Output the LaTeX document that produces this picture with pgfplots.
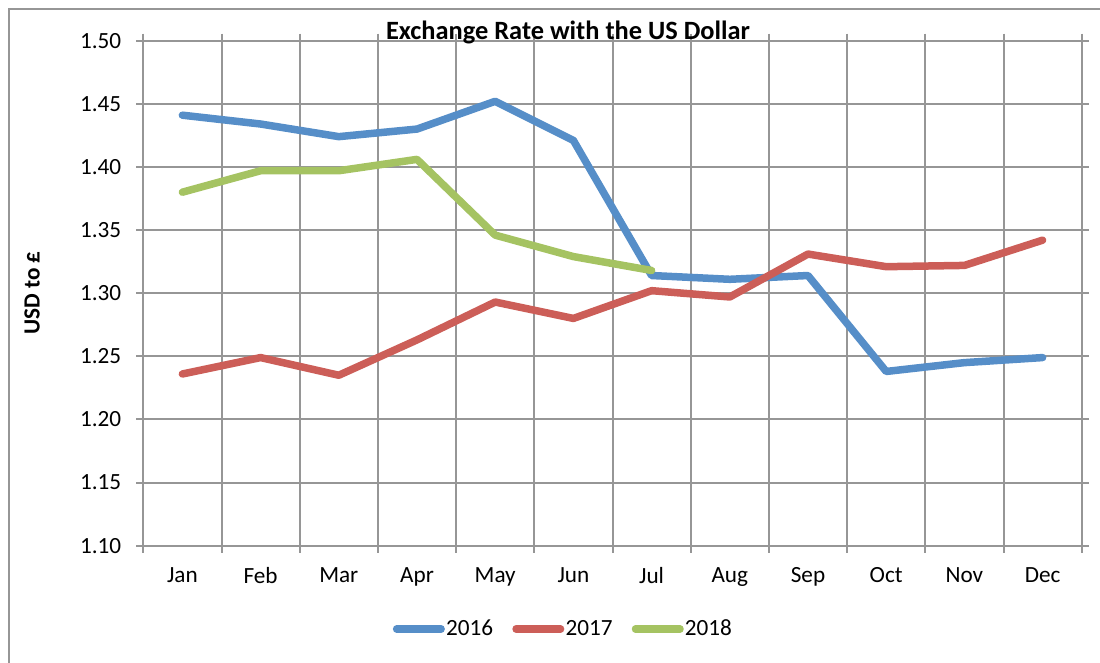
\documentclass[border=0pt]{standalone}
\usepackage{fontspec}
\setmainfont{Carlito}
\usepackage{pgfplots}
\pgfplotsset{compat=1.18}

\definecolor{gridgray}{RGB}{150,150,150}
\definecolor{c2016}{RGB}{86,142,200}
\definecolor{c2017}{RGB}{204,94,88}
\definecolor{c2018}{RGB}{165,195,98}

\newcommand{\lblfont}{\fontsize{11.6}{14}\selectfont}

\begin{document}
\begin{tikzpicture}
\useasboundingbox (0,0) rectangle (550pt,331.5pt);
% outer chart frame (cut off at right and bottom)
\draw[gridgray, line width=1pt] (4.5pt,-5pt) -- (4.5pt,327pt) -- (556pt,327pt);

\begin{axis}[
  at={(71.65pt,58.65pt)}, anchor=south west,
  scale only axis, width=469.2pt, height=252.5pt,
  xmin=0.5, xmax=12.5, ymin=1.10, ymax=1.50,
  xtick={0.5,1.5,...,12.5},
  x tick label as interval,
  xticklabels={Jan,Feb,Mar,Apr,May,Jun,Jul,Aug,Sep,Oct,Nov,Dec},
  ytick={1.10,1.15,1.20,1.25,1.30,1.35,1.40,1.45,1.50},
  yticklabel style={/pgf/number format/fixed, /pgf/number format/fixed zerofill,
    /pgf/number format/precision=2, /pgf/number format/assume math mode=true,
    xshift=-4pt},
  xmajorgrids, ymajorgrids,
  grid style={gridgray, line width=1pt},
  axis line style={gridgray, line width=1pt},
  tick style={gridgray, line width=1pt},
  tick align=outside, major tick length=3.5pt,
  tick label style={font=\lblfont, text=black},
  xticklabel style={yshift=-4pt},
  no markers,
  every axis plot/.append style={line width=3.75pt, line cap=round, line join=round},
  legend columns=3,
  legend style={draw=none, fill=none, at={(0.4473,-0.165)}, anchor=center,
    font=\lblfont, nodes={inner sep=0.6pt},
    /tikz/every even column/.append style={column sep=9pt}},
  legend image code/.code={\draw[#1] (1.75pt,0pt) -- (24pt,0pt);},
]
\addplot[c2016] coordinates {
(1,1.441) (2,1.434) (3,1.424) (4,1.430) (5,1.452) (6,1.421)
(7,1.314) (8,1.311) (9,1.314) (10,1.238) (11,1.245) (12,1.249)};
\addplot[c2017] coordinates {
(1,1.236) (2,1.249) (3,1.235) (4,1.263) (5,1.293) (6,1.280)
(7,1.302) (8,1.297) (9,1.331) (10,1.321) (11,1.322) (12,1.342)};
\addplot[c2018] coordinates {
(1,1.380) (2,1.397) (3,1.397) (4,1.406) (5,1.346) (6,1.329) (7,1.318)};
\legend{2016,2017,2018}
\end{axis}

\node[anchor=base, font=\fontsize{13.2}{16}\selectfont\bfseries] at (284pt,311.5pt) {Exchange Rate with the US Dollar};
\node[rotate=90, font=\lblfont\bfseries] at (16pt,185pt) {USD to £};
\end{tikzpicture}
\end{document}
